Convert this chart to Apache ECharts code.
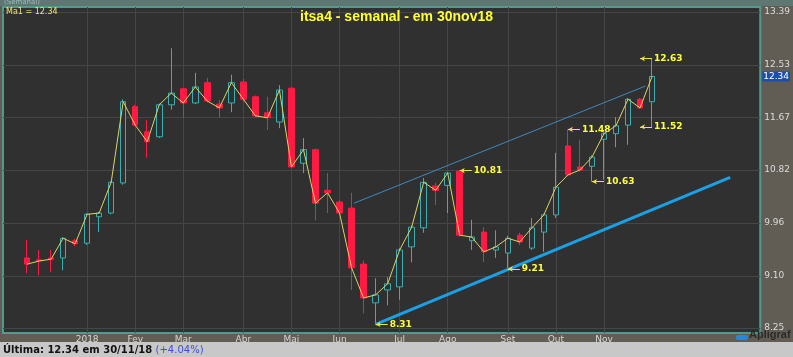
<!DOCTYPE html>
<html><head><meta charset="utf-8">
<script src="https://cdn.jsdelivr.net/npm/echarts@6/dist/echarts.min.js"></script>
<style>html,body{margin:0;padding:0;background:#615d55;}#c{width:793px;height:357px;}</style>
</head><body><div id="c"></div>
<script>
// Weekly candles (week ending Friday)
const weeks = ['01/12/17','08/12/17','15/12/17','22/12/17','29/12/17','05/01/18','12/01/18','19/01/18','26/01/18','02/02/18','09/02/18','16/02/18','23/02/18','02/03/18','09/03/18','16/03/18','23/03/18','30/03/18','06/04/18','13/04/18','20/04/18','27/04/18','04/05/18','11/05/18','18/05/18','25/05/18','01/06/18','08/06/18','15/06/18','22/06/18','29/06/18','06/07/18','13/07/18','20/07/18','27/07/18','03/08/18','10/08/18','17/08/18','24/08/18','31/08/18','07/09/18','14/09/18','21/09/18','28/09/18','05/10/18','12/10/18','19/10/18','26/10/18','02/11/18','09/11/18','16/11/18','23/11/18','30/11/18'];
const opens  = [9.39,9.36,9.39,9.39,9.67,9.63,10.06,10.12,10.61,11.85,11.44,11.36,11.88,12.14,11.91,12.24,11.89,11.91,12.25,12.01,11.75,11.60,12.15,10.93,11.15,10.49,10.30,10.20,9.29,8.66,8.87,8.92,9.57,9.88,10.56,10.57,10.80,9.67,9.81,9.52,9.47,9.76,9.55,9.81,10.09,11.21,10.87,10.88,11.32,11.41,11.55,11.97,11.93];
const closes = [9.29,9.34,9.37,9.71,9.62,10.10,10.12,10.62,11.93,11.55,11.28,11.88,12.07,11.91,12.17,11.94,11.83,12.24,11.97,11.70,11.67,12.12,10.87,11.15,10.28,10.45,10.12,9.23,8.74,8.79,8.97,9.52,9.89,10.62,10.49,10.77,9.76,9.73,9.49,9.57,9.71,9.65,9.88,10.09,10.54,10.74,10.82,11.03,11.41,11.54,11.97,11.83,12.34];
const lows   = [9.14,9.11,9.16,9.19,9.58,9.60,9.81,10.10,10.58,11.53,11.02,11.34,11.80,11.67,11.89,11.92,11.67,11.76,11.93,11.68,11.47,11.50,10.85,10.77,10.00,10.12,10.10,8.87,8.49,8.31,8.62,8.71,9.32,9.80,10.25,10.12,9.74,9.52,9.32,9.39,9.21,9.60,9.52,9.49,10.04,10.72,10.80,10.63,10.66,11.19,11.23,11.81,11.52];
const highs  = [9.68,9.52,9.52,9.73,9.70,10.12,10.14,10.64,11.97,11.88,11.63,11.90,12.80,12.16,12.40,12.32,11.96,12.37,12.30,12.03,12.01,12.20,12.16,11.34,11.17,10.77,10.33,10.45,9.35,9.06,9.08,9.55,9.92,10.69,10.61,10.79,10.81,10.01,9.89,9.84,9.75,9.80,10.04,10.11,11.10,11.48,11.31,11.06,11.47,11.68,11.99,11.99,12.63];

// Month tick labels (week index where each month starts)
const monthIdx    = [5,9,13,18,22,26,31,35,40,44,48];
const monthLabels = ['2018','Fev','Mar','Abr','Mai','Jun','Jul','Ago','Set','Out','Nov'];
// Price axis tick labels
const yTickVals   = [8.25,9.10,9.96,10.82,11.67,12.53,13.39];

// Annotated extremes (week index, price)
const markIdx = [29,36,40,45,47,52,52];
const markVal = [8.31,10.81,9.21,11.48,10.63,12.63,11.52];

// Trend lines (week index, price)
const upperTrend = [[27.2,10.28],[51.45,12.185]];
const lowerTrend = [[29,8.31],[58.5,10.70]];

const lastClose = 12.34;
const titleText = 'itsa4 - semanal - em 30nov18';

const chart = echarts.init(document.getElementById('c'), null, {renderer:'canvas'});
const candleData = weeks.map((w,i)=>[i, opens[i], closes[i], lows[i], highs[i]]);
const closeData = closes.map((c,i)=>[i,c]);
const lastIdx = weeks.length-1;
const markLines = markIdx.map((idx,k)=>{
  const v = markVal[k];
  const a = idx===lastIdx ? idx-1 : idx;
  const b = idx===lastIdx ? idx : idx+1;
  return [{coord:[a,v], symbol:'arrow', symbolSize:[4,5]},
          {coord:[b,v], symbol:'none', label:{formatter: v.toFixed(2)}}];
});

const option = {
  backgroundColor:'#615d55',
  animation:false,
  title:{text:titleText, left:'center', top:10, padding:0,
    textStyle:{color:'#ffff33', fontSize:14, fontWeight:'bold', fontFamily:'Liberation Sans'}},
  grid:{left:3, right:31, top:7, bottom:24, show:true, backgroundColor:'#303030', borderColor:'#4f9c8e', borderWidth:2},
  xAxis:{type:'value', min:-2, max:61,
    axisLine:{show:false}, axisTick:{show:false, customValues:monthIdx},
    axisLabel:{customValues:monthIdx, formatter:(v)=>monthLabels[monthIdx.indexOf(Math.round(v))]||'', color:'#d6d6d6', fontSize:9, margin:2, fontFamily:'DejaVu Sans'},
    splitLine:{show:true, lineStyle:{color:'#464646', width:1}}},
  yAxis:{type:'value', position:'right', min:8.17, max:13.47, scale:true,
    axisLine:{show:false}, axisTick:{show:false, customValues:yTickVals},
    axisLabel:{customValues:yTickVals, formatter:(v)=>v.toFixed(2), color:'#dcdcdc', fontSize:9, margin:4, fontFamily:'DejaVu Sans'},
    splitLine:{show:true, lineStyle:{color:'#464646', width:1}}},
  series:[
    {type:'candlestick', data:candleData, encode:{x:0, y:[1,2,3,4]}, barWidth:6,
      itemStyle:{color:'#303030', color0:'#ff1a44', borderColor:'#3aaeb0', borderColor0:'#ff1a44', borderWidth:1}},
    {type:'line', data:closeData, symbol:'none', z:5,
      lineStyle:{color:'#dcd468', width:1},
      markLine:{silent:true, animation:false, symbolSize:[4,5],
        lineStyle:{color:'#f0e040', width:1, type:'solid'},
        label:{show:true, position:'end', distance:2, color:'#ffff40', fontSize:9, fontWeight:'bold', fontFamily:'DejaVu Sans'},
        data:markLines}},
    {type:'line', data:upperTrend, symbol:'none', lineStyle:{color:'#3f88c0', width:1}, z:4},
    {type:'line', data:lowerTrend, symbol:'none', lineStyle:{color:'#1aa0e6', width:3}, z:4},
    {type:'line', data:[[lastIdx, lastClose]], symbol:'none', clip:false, lineStyle:{color:'transparent'}, z:6,
      markLine:{silent:true, symbol:'none', lineStyle:{color:'transparent', width:0},
      label:{show:true, position:'end', distance:2, formatter:lastClose.toFixed(2), color:'#ffffff', backgroundColor:'#1e4fa8', padding:[1,1,0,1], fontSize:9, fontFamily:'DejaVu Sans'},
      data:[{yAxis:lastClose}]}}
  ],
  graphic:[
    {type:'rect', shape:{x:0,y:0,width:793,height:6}, style:{fill:'#5e7773'}, z:-1},
    {type:'text', x:4, y:-1, z:100, style:{text:'(Semanal)', fill:'#9bbcb8', fontSize:7, fontFamily:'DejaVu Sans'}},
    {type:'text', x:6, y:8, z:100, style:{text:'Ma1 = 12.34', fill:'#eee870', fontSize:8, fontFamily:'DejaVu Sans'}},
    {type:'rect', shape:{x:0,y:342,width:793,height:15}, style:{fill:'#c8c8c8'}, z:100},
    {type:'text', x:3, y:344, z:101, style:{text:'{a|Última: 12.34 em 30/11/18} {b|(+4.04%)}', rich:{
      a:{fill:'#111', fontSize:10, fontWeight:'bold', fontFamily:'DejaVu Sans'},
      b:{fill:'#3850d8', fontSize:10, fontFamily:'DejaVu Sans'}}}},
    {type:'rect', shape:{x:736,y:335,width:12,height:5, r:2}, style:{fill:'#2a86d6'}, z:100},
    {type:'text', x:749, y:329, z:101, style:{text:'Apligraf', fill:'#2a2a2a', fontSize:11, fontWeight:'bold', fontFamily:'Liberation Sans'}}
  ]
};
chart.setOption(option);
</script></body></html>
